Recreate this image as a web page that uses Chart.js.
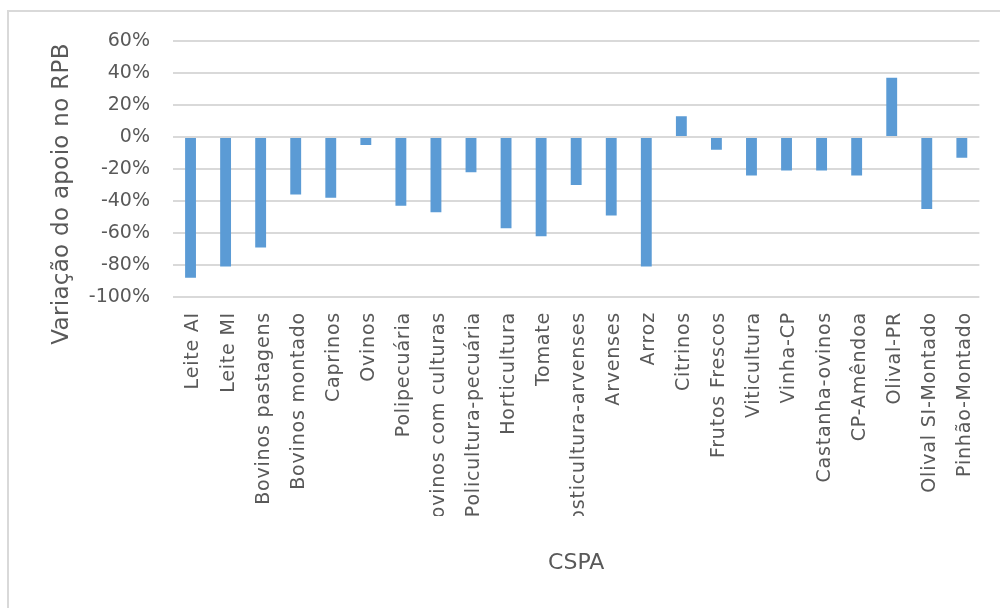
<!DOCTYPE html>
<html lang="pt">
<head>
<meta charset="utf-8">
<title>Variação do apoio no RPB por CSPA</title>
<script src="https://cdn.jsdelivr.net/npm/chart.js@4.4.1/dist/chart.umd.min.js"></script>
<style>
  html, body { margin: 0; padding: 0; background: #ffffff; overflow: hidden; }
  #wrap { position: relative; width: 1000px; height: 608px; }
  #frame {
    position: absolute; left: 7px; top: 10px; width: 1010px; height: 620px;
    border-left: 2px solid #d9d9d9; border-top: 2px solid #d9d9d9;
    pointer-events: none;
  }
  canvas { position: absolute; left: 0; top: 0; }
</style>
</head>
<body>
<div id="wrap">
  <canvas id="chart" width="1000" height="608"></canvas>
  <div id="frame"></div>
</div>
<script>
// Sistemas de produção (CSPA)
const categories = [
  'Leite AI', 'Leite MI', 'Bovinos pastagens', 'Bovinos montado', 'Caprinos',
  'Ovinos', 'Polipecuária', 'Bovinos com culturas', 'Policultura-pecuária',
  'Horticultura', 'Tomate', 'Hosticultura-arvenses', 'Arvenses', 'Arroz',
  'Citrinos', 'Frutos Frescos', 'Viticultura', 'Vinha-CP', 'Castanha-ovinos',
  'CP-Amêndoa', 'Olival-PR', 'Olival SI-Montado', 'Pinhão-Montado'
];

// Variação do apoio no RPB (%)
const variacao = [
  -88, -81, -69, -36, -38,
  -5, -43, -47, -22,
  -57, -62, -30, -49, -81,
  13, -8, -24, -21, -21,
  -24, 37, -45, -13
];

// Eixo vertical
const yMin = -100;
const yMax = 60;
const yStep = 20;
const yTitle = 'Variação do apoio no RPB';
const xTitle = 'CSPA';

const textColor = '#595959';
const gridColor = '#d9d9d9';
const barColor = '#5b9bd5';
const fontFamily = '"DejaVu Sans", sans-serif';

// Category labels are drawn after the bars (ticks z = 1): give them a little
// tracking and cut them off at the lower edge of the label band.
const categoryLabelStyle = {
  id: 'categoryLabelStyle',
  afterDatasetsDraw(chart) {
    const ctx = chart.ctx;
    ctx.save();
    ctx.beginPath();
    ctx.rect(0, 0, chart.width, 516);
    ctx.clip();
    ctx.letterSpacing = '0.8px';
  },
  afterDraw(chart) {
    chart.ctx.restore();
  }
};

// Vertical axis title, centred on the full label column
const verticalTitle = {
  id: 'verticalTitle',
  afterDraw(chart) {
    const ctx = chart.ctx;
    ctx.save();
    ctx.translate(62, 194);
    ctx.rotate(-Math.PI / 2);
    ctx.font = '23px ' + fontFamily;
    ctx.letterSpacing = '0.3px';
    ctx.fillStyle = textColor;
    ctx.textAlign = 'center';
    ctx.textBaseline = 'middle';
    ctx.fillText(yTitle, 0, 0);
    ctx.restore();
  }
};

new Chart(document.getElementById('chart'), {
  type: 'bar',
  data: {
    labels: categories,
    datasets: [{
      label: yTitle,
      data: variacao,
      backgroundColor: barColor,
      borderWidth: 0,
      barPercentage: 0.31,
      categoryPercentage: 1.0
    }]
  },
  options: {
    responsive: false,
    animation: false,
    devicePixelRatio: 1,
    layout: { padding: { left: 8, right: 17, top: 41, bottom: 0 } },
    plugins: {
      legend: { display: false },
      tooltip: { enabled: false }
    },
    scales: {
      x: {
        grid: { display: false, drawTicks: false },
        border: { display: false },
        ticks: {
          z: 1,
          autoSkip: false,
          maxRotation: 90,
          minRotation: 90,
          padding: 15,
          labelOffset: 3,
          color: textColor,
          font: { family: fontFamily, size: 19 }
        },
        title: {
          display: true,
          text: xTitle,
          color: textColor,
          font: { family: fontFamily, size: 22 },
          padding: { top: 0, bottom: 32 }
        },
        afterFit(scale) { scale.height = 311; }
      },
      y: {
        min: yMin,
        max: yMax,
        grid: { color: gridColor, lineWidth: 2, drawTicks: false },
        border: { display: false },
        ticks: {
          stepSize: yStep,
          padding: 23,
          color: textColor,
          font: { family: fontFamily, size: 19 },
          callback: (v) => v + '%'
        },
        title: { display: false },
        afterFit(scale) { scale.width = 165; }
      }
    }
  },
  plugins: [categoryLabelStyle, verticalTitle]
});
</script>
</body>
</html>
